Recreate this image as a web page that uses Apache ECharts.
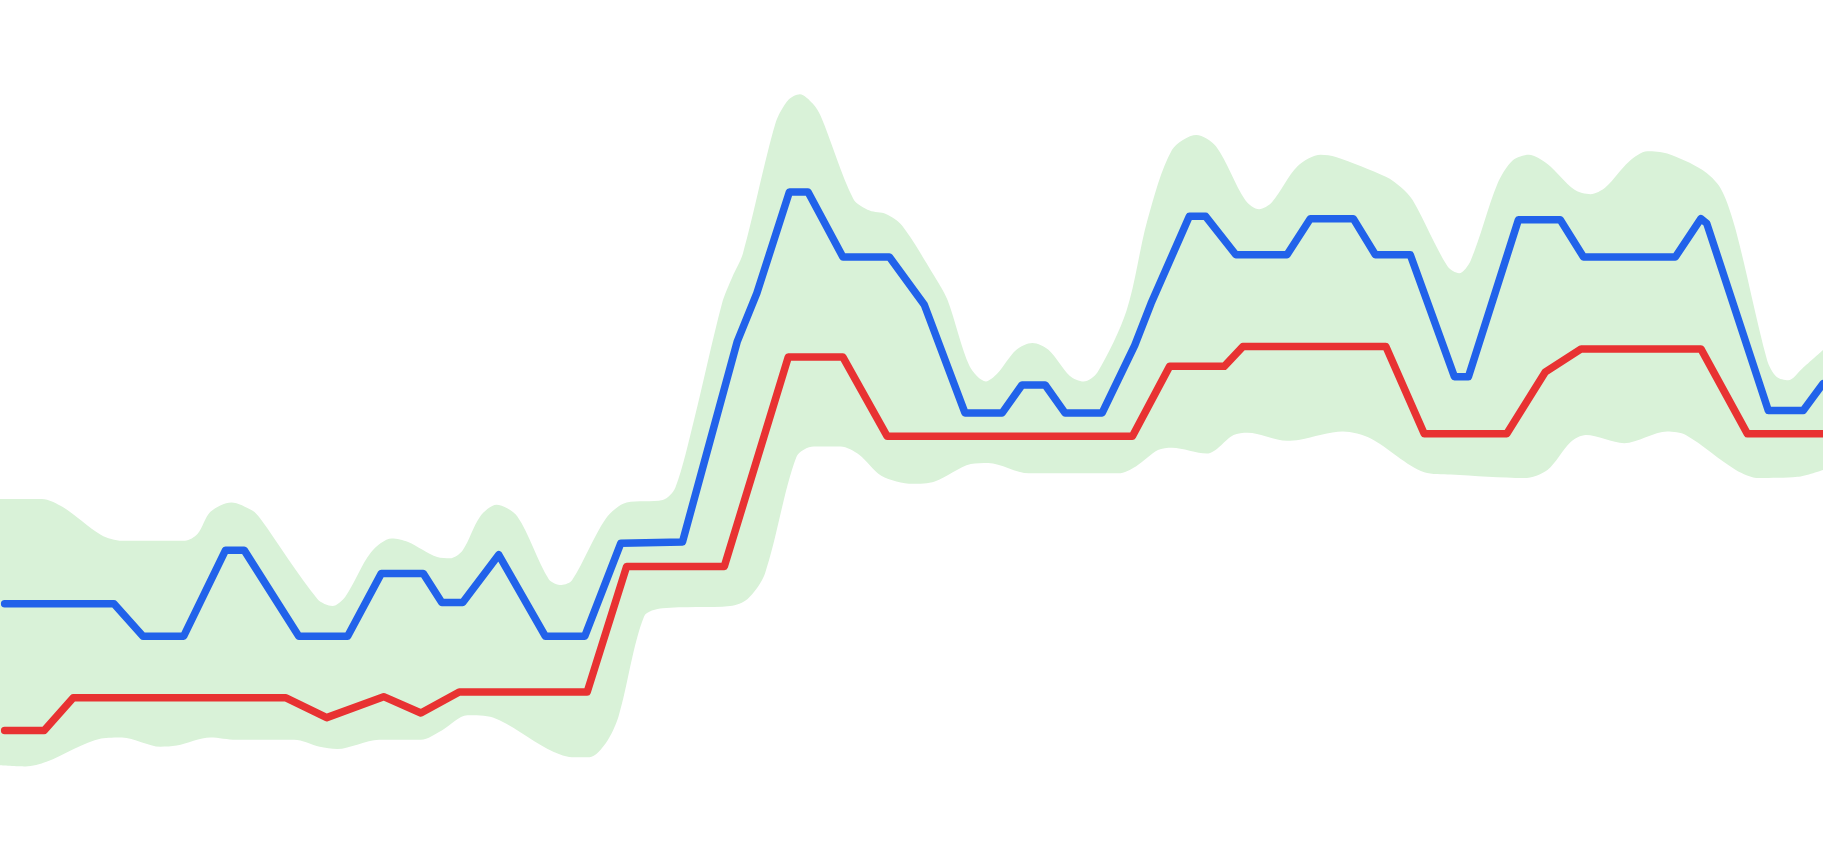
<!DOCTYPE html>
<html>
<head>
<meta charset="utf-8">
<script src="https://cdn.jsdelivr.net/npm/echarts@6/dist/echarts.min.js"></script>
<style>
html,body{margin:0;padding:0;background:#ffffff;}
#chart{width:1823px;height:863px;}
</style>
</head>
<body>
<div id="chart"></div>
<script>
// x positions (time units) and values for each series
var blueX = [4,98,123,158,194,210,257,299,328,364,380,398,429,469,503,534,587,634,651,679,695,725,765,795,830,862,879,899,916,948,976,990,1023,1037,1063,1107,1127,1164,1183,1213,1251,1263,1306,1342,1362,1441,1463,1468,1521,1551,1568];
var blueY = [223,223,195,195,269,269,195,195,249,249,224,224,265,195,195,275,276,448,490,577,577,521,521,480,387,387,411,411,387,387,445,481,556,556,523,523,554,554,523,523,418,418,553,553,521,521,554,550,389,389,412];

var redX = [4,38,63,246,281,330,362,395,505,539,623,678,725,763,974,1006,1053,1069,1192,1225,1296,1329,1360,1463,1503,1568];
var redY = [114,114,142,142,125,143,129,147,147,255,255,435,435,367,367,427,427,444,444,369,369,422,442,442,369,369];

// upper edge of the green band
var upperX = [0,36,54,87,105,159,170,181,199,217,224,273,286,297,319,337,351,376,387,398,413,427,445,472,483,492,521,539,570,581,597,621,630,639,667,678,688,699,706,734,748,762,776,804,815,834,848,858,874,888,902,920,932,944,969,987,1008,1029,1046,1071,1083,1094,1116,1136,1149,1192,1205,1215,1245,1255,1265,1288,1301,1315,1331,1354,1368,1381,1401,1417,1434,1464,1480,1493,1520,1528,1538,1550,1568];
var upperY = [313,313,306,282,277,277,283,302,310,303,296,227,221,229,267,279,276,263,262,269,298,308,298,244,239,243,296,310,312,323,381,481,504,524,636,656,661,653,642,571,561,558,548,504,484,427,414,421,441,447,441,419,414,422,475,553,613,626,616,570,562,568,599,609,607,590,581,570,513,507,518,584,604,609,601,579,575,581,603,612,610,596,580,544,432,418,415,425,441];

// lower edge of the green band
var lowerX = [0,22,40,87,105,138,152,181,203,253,275,290,326,362,380,402,424,471,492,507,521,532,554,570,628,643,658,685,700,723,739,758,785,804,835,850,885,962,977,996,1008,1038,1061,1073,1107,1118,1155,1179,1225,1248,1311,1331,1351,1364,1397,1434,1450,1493,1513,1546,1568];
var lowerY = [84,83,87,107,108,100,101,108,106,106,100,98,106,106,114,127,125,98,91,91,103,126,212,219,221,227,249,349,358,358,351,333,326,328,343,344,335,335,341,355,357,352,368,370,363,364,371,365,336,334,331,338,362,368,361,371,368,338,331,332,338];

function pairs(xs, ys){ return xs.map(function(x,i){ return [x, ys[i]]; }); }

var chart = echarts.init(document.getElementById('chart'), null, {renderer:'canvas'});
chart.setOption({
  backgroundColor:'#ffffff',
  animation:false,
  grid:{left:0,right:0,top:0,bottom:0},
  xAxis:{type:'value',min:0,max:1568,show:false},
  yAxis:{type:'value',min:0,max:742,show:false},
  series:[
    {name:'upper',type:'line',data:pairs(upperX,upperY),smooth:0.3,symbol:'none',
     lineStyle:{width:0,color:'#d9f2d8'},areaStyle:{color:'#d9f2d8',opacity:1,origin:'start'},z:1},
    {name:'lower',type:'line',data:pairs(lowerX,lowerY),smooth:0.3,symbol:'none',
     lineStyle:{width:0,color:'#ffffff'},areaStyle:{color:'#ffffff',opacity:1,origin:'start'},z:2},
    {name:'blue',type:'line',data:pairs(blueX,blueY),symbol:'none',
     lineStyle:{width:7.5,color:'#2162ea',cap:'round',join:'round'},z:5},
    {name:'red',type:'line',data:pairs(redX,redY),symbol:'none',
     lineStyle:{width:7.5,color:'#e83232',cap:'round',join:'round'},z:4}
  ]
});
</script>
</body>
</html>
